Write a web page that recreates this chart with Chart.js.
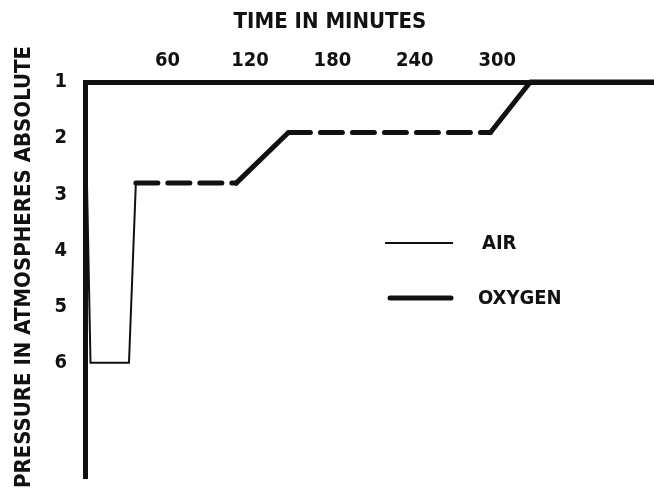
<!DOCTYPE html>
<html>
<head>
<meta charset="utf-8">
<script src="https://cdn.jsdelivr.net/npm/chart.js@4"></script>
<style>
  html, body { margin: 0; padding: 0; background: #fff; }
  #wrap { position: relative; width: 654px; height: 499px; }
</style>
</head>
<body>
<div id="wrap"><canvas id="chart"></canvas></div>
<script>
// ---- data (time in minutes, pressure in ATA) ----
const xTicks    = [60, 120, 180, 240, 300];
const yTicks    = [1, 2, 3, 4, 5, 6];
const airTime   = [0, 4, 32, 37];
const airAta    = [1, 6, 6, 2.8];
const oxyTime   = [37, 110, 148, 295, 324, 414];
const oxyAta    = [2.8, 2.8, 1.9, 1.9, 1, 1];

const INK  = '#111';
const FONT = "'DejaVu Sans Condensed', 'Liberation Sans Narrow', 'DejaVu Sans', sans-serif";

const toPts = (xs, ys) => xs.map((x, i) => ({ x, y: ys[i] }));

// titles + legend, drawn on top of the chart
const decor = {
  id: 'decor',
  afterDraw(chart) {
    const c = chart.ctx;
    c.save();
    c.fillStyle = INK;
    c.strokeStyle = INK;
    c.textBaseline = 'middle';

    // top title
    c.font = `bold 22px ${FONT}`;
    c.textAlign = 'center';
    c.fillText('TIME IN MINUTES', 330, 22);

    // left title
    c.save();
    c.translate(24, 267);
    c.rotate(-Math.PI / 2);
    c.fillText('PRESSURE IN ATMOSPHERES ABSOLUTE', 0, 0);
    c.restore();

    // legend
    c.lineCap = 'butt';
    c.lineWidth = 2;
    c.beginPath(); c.moveTo(385, 243); c.lineTo(453, 243); c.stroke();
    c.lineWidth = 5;
    c.lineCap = 'round';
    c.beginPath(); c.moveTo(390, 298); c.lineTo(451, 298); c.stroke();

    c.font = `bold 20px ${FONT}`;
    c.textAlign = 'left';
    c.fillText('AIR', 482, 244);
    c.fillText('OXYGEN', 478, 299);
    c.restore();
  }
};

new Chart(document.getElementById('chart'), {
  type: 'line',
  data: {
    datasets: [
      {
        label: 'AIR',
        data: toPts(airTime, airAta),
        borderColor: INK,
        borderWidth: 2,
        pointRadius: 0,
        tension: 0,
        clip: 10,
      },
      {
        label: 'OXYGEN',
        data: toPts(oxyTime, oxyAta),
        borderColor: INK,
        borderWidth: 5,
        borderCapStyle: 'round',
        borderJoinStyle: 'round',
        pointRadius: 0,
        tension: 0,
        clip: 10,
        segment: {
          // level stretches at depth are dashed, the ramps are solid
          borderDash: ctx => (ctx.p0.parsed.y === ctx.p1.parsed.y && ctx.p0.parsed.y !== 1) ? [22, 10] : undefined,
        },
      },
    ],
  },
  options: {
    responsive: true,
    maintainAspectRatio: false,
    animation: false,
    layout: { padding: { top: 0, left: 0, right: 0, bottom: 21 } },
    plugins: {
      legend:  { display: false },
      tooltip: { enabled: false },
    },
    scales: {
      x: {
        type: 'linear',
        position: 'top',
        min: 0,
        max: 414,
        afterBuildTicks: s => { s.ticks = xTicks.map(v => ({ value: v })); },
        afterFit: s => { s.height = 82; s.paddingLeft = 0; s.paddingRight = 0; },
        grid:   { display: false, drawTicks: false },
        border: { display: true, color: INK, width: 5 },
        ticks:  { color: INK, padding: 9, maxRotation: 0, font: { family: FONT, size: 20, weight: 'bold' } },
      },
      y: {
        type: 'linear',
        reverse: true,
        min: 1,
        max: 8.05,
        afterBuildTicks: s => { s.ticks = yTicks.map(v => ({ value: v })); },
        afterFit: s => { s.width = 85; s.paddingTop = 0; s.paddingBottom = 0; },
        grid:   { display: false, drawTicks: false },
        border: { display: true, color: INK, width: 5 },
        ticks:  { color: INK, padding: 18, font: { family: FONT, size: 20, weight: 'bold' } },
      },
    },
  },
  plugins: [decor],
});
</script>
</body>
</html>
